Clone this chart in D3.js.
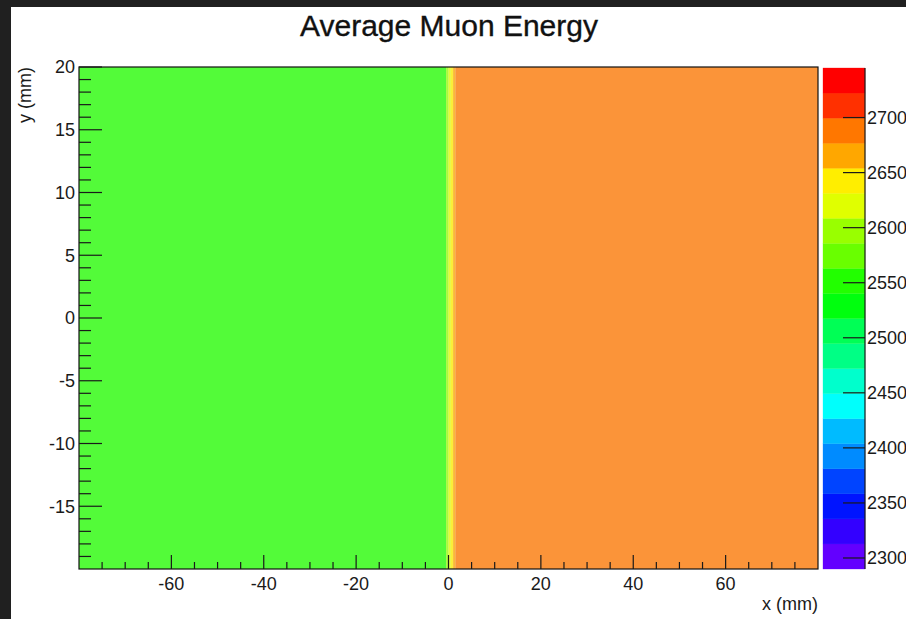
<!DOCTYPE html>
<html>
<head>
<meta charset="utf-8">
<script src="https://cdn.jsdelivr.net/npm/d3@7"></script>
<style>
  html, body { margin: 0; padding: 0; background: #fff; }
  svg { display: block; font-family: "Liberation Sans", Arial, Helvetica, sans-serif; }
</style>
</head>
<body>
<svg id="chart" width="906" height="619"></svg>
<script>
// Average muon energy per x column (MeV), constant along y.
// Column boundaries in mm and the mean energy of each column.
const xEdges   = [-80, -0.5, 0, 0.5, 1, 1.5, 80];
const energies = [2552, 2600, 2622, 2645, 2668, 2690];

// Axis ranges and tick labels
const xRange = [-80, 80];
const yRange = [-20, 20];
const zRange = [2290, 2745];
const xTickLabels = [-60, -40, -20, 0, 20, 40, 60];
const yTickLabels = [-15, -10, -5, 0, 5, 10, 15, 20];
const zTickLabels = [2300, 2350, 2400, 2450, 2500, 2550, 2600, 2650, 2700];
const nLevels = 20;

const svg = d3.select("#chart");
const W = 906, H = 619;
const frame = { left: 79, right: 818, top: 67, bottom: 569 };
const bar = { left: 823, right: 865, top: 68, bottom: 569 };

// window chrome
svg.append("rect").attr("x", 0).attr("y", 0).attr("width", W).attr("height", H).attr("fill", "#fff");
svg.append("rect").attr("x", 0).attr("y", 0).attr("width", W).attr("height", 7).attr("fill", "#202020");
svg.append("rect").attr("x", 0).attr("y", 0).attr("width", 11).attr("height", H).attr("fill", "#202020");

const x = d3.scaleLinear().domain(xRange).range([frame.left, frame.right]);
const y = d3.scaleLinear().domain(yRange).range([frame.bottom, frame.top]);
const z = d3.scaleLinear().domain(zRange).range([bar.bottom, bar.top]);

// Rainbow contour palette: 50 HLS colours violet -> red, 20 levels picked from it
function levelColor(i) {
  const idx = Math.floor((i + 0.99) * 50 / nLevels);
  const hue = idx >= 49 ? 0 : 280 - (idx + 1) * 5.6;
  return d3.hsl(hue, 1, 0.5).formatHex();
}
const levelStep = (zRange[1] - zRange[0]) / nLevels;
function colorOf(v) {
  let i = Math.floor((v - zRange[0]) / levelStep);
  i = Math.max(0, Math.min(nLevels - 1, i));
  return levelColor(i);
}

// heat map cells
const plot = svg.append("g");
plot.append("rect")
  .attr("x", frame.left).attr("y", frame.top)
  .attr("width", frame.right - frame.left).attr("height", frame.bottom - frame.top)
  .attr("fill", "#ececec");
const cols = energies.map((e, i) => ({ x0: xEdges[i], x1: xEdges[i + 1], e }));
plot.selectAll("rect.cell").data(cols).join("rect")
  .attr("class", "cell")
  .attr("x", d => x(d.x0))
  .attr("width", d => x(d.x1) - x(d.x0))
  .attr("y", y(yRange[1]))
  .attr("height", y(yRange[0]) - y(yRange[1]))
  .attr("fill", d => colorOf(d.e))
  .attr("fill-opacity", 0.76);

// frame
svg.append("rect")
  .attr("x", frame.left).attr("y", frame.top)
  .attr("width", frame.right - frame.left).attr("height", frame.bottom - frame.top)
  .attr("fill", "none").attr("stroke", "#111").attr("stroke-width", 1.2);

const ink = "#1a1a1a";
const fs = 18;

// x axis ticks (inward)
const xMinor = d3.range(-75, 80, 5).filter(v => v % 20 !== 0);
const gx = svg.append("g");
gx.selectAll("line.maj").data(xTickLabels).join("line")
  .attr("x1", d => x(d)).attr("x2", d => x(d))
  .attr("y1", frame.bottom).attr("y2", frame.bottom - 14)
  .attr("stroke", ink).attr("stroke-width", 1.2);
gx.selectAll("line.min").data(xMinor).join("line")
  .attr("x1", d => x(d)).attr("x2", d => x(d))
  .attr("y1", frame.bottom).attr("y2", frame.bottom - 7)
  .attr("stroke", ink).attr("stroke-width", 1.2);
gx.selectAll("text").data(xTickLabels).join("text")
  .attr("x", d => x(d)).attr("y", 590)
  .attr("text-anchor", "middle").attr("font-size", fs).attr("fill", ink)
  .text(d => d);

// y axis ticks (inward)
const yMinor = d3.range(-19, 20, 1).filter(v => v % 5 !== 0);
const gy = svg.append("g");
gy.selectAll("line.maj").data(yTickLabels).join("line")
  .attr("x1", frame.left).attr("x2", frame.left + 23)
  .attr("y1", d => y(d)).attr("y2", d => y(d))
  .attr("stroke", ink).attr("stroke-width", 1.2);
gy.selectAll("line.min").data(yMinor).join("line")
  .attr("x1", frame.left).attr("x2", frame.left + 12)
  .attr("y1", d => y(d)).attr("y2", d => y(d))
  .attr("stroke", ink).attr("stroke-width", 1.2);
gy.selectAll("text").data(yTickLabels).join("text")
  .attr("x", 75).attr("y", d => y(d))
  .attr("dy", "0.36em")
  .attr("text-anchor", "end").attr("font-size", fs).attr("fill", ink)
  .text(d => d);

// colour scale bar
const levels = d3.range(nLevels);
svg.append("g").selectAll("rect").data(levels).join("rect")
  .attr("x", bar.left).attr("width", bar.right - bar.left)
  .attr("y", i => z(zRange[0] + (i + 1) * levelStep))
  .attr("height", i => z(zRange[0] + i * levelStep) - z(zRange[0] + (i + 1) * levelStep))
  .attr("fill", i => levelColor(i))
  .attr("stroke", i => levelColor(i)).attr("stroke-width", 0.3);
svg.append("line")
  .attr("x1", bar.right).attr("x2", bar.right)
  .attr("y1", bar.top).attr("y2", bar.bottom)
  .attr("stroke", ink).attr("stroke-width", 1.2);
const gz = svg.append("g");
gz.selectAll("line").data(zTickLabels).join("line")
  .attr("x1", bar.right - 22).attr("x2", bar.right)
  .attr("y1", d => z(d)).attr("y2", d => z(d))
  .attr("stroke", ink).attr("stroke-width", 1.2);
gz.selectAll("text").data(zTickLabels).join("text")
  .attr("x", 867).attr("y", d => z(d))
  .attr("dy", "0.36em")
  .attr("font-size", fs).attr("fill", ink)
  .text(d => d);

// titles
svg.append("text")
  .attr("x", 449).attr("y", 36)
  .attr("text-anchor", "middle").attr("font-size", 30).attr("fill", "#111")
  .attr("stroke", "#111").attr("stroke-width", 0.35)
  .text("Average Muon Energy");
svg.append("text")
  .attr("x", frame.right).attr("y", 610)
  .attr("text-anchor", "end").attr("font-size", fs).attr("fill", ink)
  .text("x (mm)");
svg.append("text")
  .attr("transform", `translate(31,${frame.top}) rotate(-90)`)
  .attr("text-anchor", "end").attr("font-size", fs).attr("fill", ink)
  .text("y (mm)");
</script>
</body>
</html>
